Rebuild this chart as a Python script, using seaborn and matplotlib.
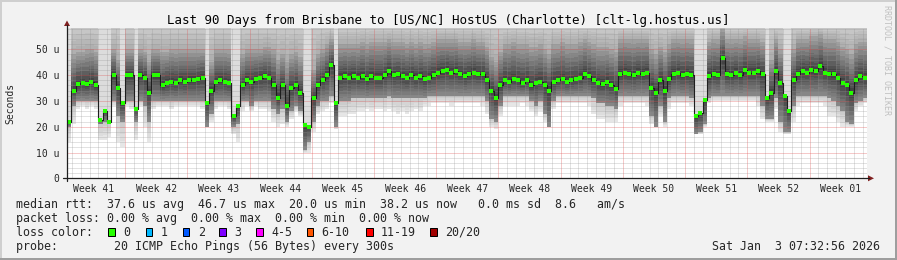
import numpy as np
import pandas as pd
import matplotlib
matplotlib.use("Agg")
import matplotlib.pyplot as plt
import seaborn as sns
from matplotlib.lines import Line2D
from matplotlib.patches import Polygon, Rectangle

# ---------------- data ----------------
title = "Last 90 Days from Brisbane to [US/NC] HostUS (Charlotte) [clt-lg.hostus.us]"
week_labels = ["Week 41", "Week 42", "Week 43", "Week 44", "Week 45", "Week 46", "Week 47",
               "Week 48", "Week 49", "Week 50", "Week 51", "Week 52", "Week 01"]
y_tick_values = [0, 10, 20, 30, 40, 50]
y_tick_labels = ["0", "10 u", "20 u", "30 u", "40 u", "50 u"]
y_label = "Seconds"
watermark = "RRDTOOL / TOBI OETIKER"
legend_median = "median rtt:  37.6 us avg  46.7 us max  20.0 us min  38.2 us now   0.0 ms sd  8.6   am/s"
legend_loss = "packet loss: 0.00 % avg  0.00 % max  0.00 % min  0.00 % now"
legend_color_title = "loss color:"
loss_labels = ["0", "1", "2", "3", "4-5", "6-10", "11-19", "20/20"]
loss_colors = ["#26ff00", "#00b8ff", "#0059ff", "#7e00ff", "#ff00ff", "#ff5500", "#ff0000", "#a10000"]
legend_probe = "probe:        20 ICMP Echo Pings (56 Bytes) every 300s"
timestamp = "Sat Jan  3 07:32:56 2026"

# median RTT per half day (units: u), one row per week
median_rtt = [
    22, 34, 36.5, 37, 36.5, 37.5, 36, 22.5, 26, 22, 40, 35, 29, 40,
    40, 27, 40, 39, 33, 40, 40, 36, 37, 37.5, 37, 38, 37.5, 38,
    38, 38.5, 39, 29, 34, 37.5, 38, 37.5, 37, 24, 28, 36, 38, 37.5,
    38.5, 39, 39.5, 39, 36, 31, 36, 28, 35, 36, 33, 20.5, 20, 31,
    36, 38, 40, 44, 29, 39, 39.5, 39, 39.5, 39, 39.5, 38.5, 39.5, 39,
    39, 40, 41.5, 40, 40.5, 39.5, 39, 40, 39, 39.5, 38.5, 39, 40, 41,
    41.5, 42, 41, 41.5, 40.5, 39.5, 40.5, 41, 40.5, 40.5, 38, 34, 31, 36,
    38, 37.5, 38.5, 38, 37, 38, 36, 37, 37.5, 36, 34, 37.5, 38, 38.5,
    37.5, 38, 38.5, 39, 40.5, 39.5, 38, 37, 36.5, 37.5, 36, 34.5, 40.5, 41,
    40.5, 40, 41, 40.5, 41, 35, 33, 38, 34, 38.5, 40.5, 41, 40, 40.5,
    40, 24, 25.5, 30.5, 39.5, 40.5, 40, 46.5, 40.5, 40, 41, 40, 42, 41,
    41, 41.5, 40.5, 31, 33, 41.5, 37, 32, 26, 38, 40.5, 41.5, 41, 42,
    41.5, 43.5, 41, 40.5, 40.5, 39, 37, 36, 33, 38, 39.5, 39,
]
# top of the darker upper smoke
hi_q = [
    22, 48, 49, 49, 50, 50, 49, 22.5, 26, 22, 50, 46, 29, 50,
    50, 27, 50, 49, 45, 50, 50, 49, 49, 50, 50, 50, 50, 50,
    50, 50, 50, 29, 45, 50, 50, 50, 50, 24, 28, 48, 50, 50,
    50, 50, 51, 51, 50, 46, 48, 45, 48, 49, 47, 20.5, 20, 42,
    48, 50, 52, 54, 29, 52, 52, 52, 52, 52, 53, 52, 53, 53,
    53, 53, 54, 53, 53, 53, 52, 53, 52, 53, 52, 52, 53, 54,
    54, 54, 54, 54, 53, 53, 53, 54, 53, 53, 51, 47, 45, 49,
    52, 52, 53, 52, 52, 52, 51, 51, 52, 50, 48, 52, 52, 53,
    52, 52, 52, 53, 54, 53, 52, 51, 51, 51, 50, 49, 54, 54,
    54, 54, 54, 54, 54, 50, 48, 51, 49, 52, 54, 54, 54, 54,
    54, 24, 25.5, 30.5, 53, 54, 54, 58, 54, 54, 54, 54, 55, 54,
    54, 54, 53, 31, 46, 54, 50, 32, 26, 50, 54, 54, 54, 55,
    55, 56, 54, 54, 54, 53, 51, 50, 48, 52, 53, 53,
]
# bottom of the dark lower smoke
lo_dark = [
    20, 28, 30, 30, 30, 30, 30, 21, 22, 21, 30, 24, 22, 30,
    30, 22, 30, 28, 22, 30, 30, 30, 30, 30, 30, 30, 30, 30,
    30, 30, 30, 20, 25, 30, 30, 30, 30, 20, 21, 30, 30, 28,
    30, 30, 30, 30, 27, 25, 27, 22, 26, 28, 26, 11, 14, 22,
    28, 30, 30, 32, 20, 30, 30, 30, 31, 31, 31, 31, 31, 31,
    31, 31, 32, 31, 31, 31, 31, 31, 31, 31, 31, 32, 32, 32,
    32, 32, 32, 32, 32, 32, 32, 32, 32, 32, 30, 23, 22, 28,
    32, 32, 32, 32, 32, 32, 30, 28, 30, 25, 20, 30, 32, 32,
    32, 32, 32, 32, 32, 32, 31, 29, 29, 28, 28, 27, 32, 32,
    32, 32, 32, 32, 32, 24, 20, 28, 22, 31, 32, 32, 32, 32,
    31, 17, 18, 21, 31, 32, 32, 32, 32, 32, 32, 32, 32, 32,
    32, 32, 28, 23, 23, 31, 22, 18, 18, 28, 32, 32, 32, 32,
    32, 32, 32, 31, 30, 28, 26, 22, 21, 29, 30, 31,
]
# lowest light smoke tails
lo_min = [
    14, 21, 27, 28, 27, 28, 27, 15, 15, 16, 28, 14, 12, 28,
    27, 15, 28, 20, 14, 27, 28, 28, 28, 27, 28, 28, 28, 28,
    28, 28, 27, 20, 22, 27, 28, 28, 27, 17, 14, 26, 28, 26,
    28, 27, 27, 26, 22, 20, 21, 20, 23, 26, 24, 10, 10, 18,
    25, 26, 27, 29, 19, 24, 24, 25, 25, 26, 26, 27, 26, 27,
    27, 26, 27, 26, 25, 26, 25, 26, 27, 26, 28, 28, 29, 29,
    29, 29, 28, 29, 29, 29, 29, 29, 29, 28, 25, 20, 19, 24,
    28, 28, 28, 28, 29, 28, 26, 24, 26, 22, 20, 27, 29, 29,
    29, 29, 29, 29, 29, 28, 25, 23, 23, 22, 22, 22, 28, 29,
    29, 29, 29, 29, 28, 21, 20, 24, 20, 27, 29, 29, 29, 29,
    28, 17, 17, 20, 29, 30, 30, 30, 30, 30, 30, 30, 30, 30,
    30, 28, 23, 22, 22, 27, 18, 17, 17, 22, 28, 29, 29, 29,
    29, 29, 28, 24, 24, 22, 20, 20, 20, 26, 28, 29,
]

# ---------------- layout ----------------
W, H = 897, 260
L_PX, R_PX, T_PX, B_PX = 67, 867, 28.0, 178.3
Y_TOP = 58.26
SPAN_DAYS = 90
FIRST_WEEK_LINE = 6.54  # day offset of first week boundary


def fx(px):
    return px / W


def fy(py):
    return 1 - py / H


sns.set_theme(style="white")
plt.rcParams['font.family'] = ['DejaVu Sans Mono', 'DejaVu Sans']

fig = plt.figure(figsize=(W / 100, H / 100), dpi=100, facecolor='#f2f2f2')
ax = fig.add_axes([fx(L_PX), fy(B_PX), (R_PX - L_PX) / W, (B_PX - T_PX) / H])
ax.set_facecolor('white')
ax.set_xlim(0, SPAN_DAYS)
ax.set_ylim(0, Y_TOP)

days = np.arange(len(median_rtt)) * 0.5 + 0.25
x = np.r_[0.0, days, float(SPAN_DAYS)]


def ext(a):
    a = np.asarray(a, float)
    return np.r_[a[0], a, a[-1]]


med = ext(median_rtt)
lod = ext(lo_dark)
lom = ext(lo_min)
hiq = ext(hi_q)
stripe = (hiq - med) < 3
hi_eff = np.where(stripe, med, hiq)
top_eff = np.where(stripe, med, Y_TOP)
stripe_top = np.where(stripe, Y_TOP, med)


def band(lo, hi, c):
    ax.fill_between(x, lo, hi, step='mid', color=c, linewidth=0, zorder=1, antialiased=False)


def grey(v):
    return (v / 255, v / 255, v / 255)


def gradient(lo, hi, g_lo, g_hi, n):
    for k in range(n):
        g = g_lo + (g_hi - g_lo) * (k + 0.5) / n
        band(lo + (hi - lo) * k / n, lo + (hi - lo) * (k + 1) / n, grey(g))


# light tails below the dark smoke
gradient(lom, lod, 234, 200, 4)
# dark smoke between lower bound and median
gradient(lod, med, 140, 62, 7)
# upper smoke from median up
gradient(med, hi_eff, 62, 165, 8)
gradient(hi_eff, top_eff, 172, 202, 4)
band(med, stripe_top, '#dcdcdc')

# grid (drawn over the smoke, like rrdtool)
grid_minor = (0.56, 0.56, 0.56, 0.5)
grid_major = (0.87, 0.31, 0.31, 0.6)
dots = (0, (1, 1))
d = FIRST_WEEK_LINE - 6
while d < SPAN_DAYS:
    q = (d - FIRST_WEEK_LINE) / 7
    major = abs(q - round(q)) < 1e-6
    ax.axvline(d, color=grid_major if major else grid_minor, lw=0.72, ls=dots, zorder=2)
    d += 1
for v in np.arange(2, Y_TOP, 2):
    ax.axhline(v, color=grid_major if v % 10 == 0 else grid_minor, lw=0.72, ls=dots, zorder=2)

# median line with loss-colored dots
df = pd.DataFrame({'day': days, 'rtt': median_rtt})
sns.lineplot(data=df, x='day', y='rtt', ax=ax, color='#1e1e1e', lw=0.8,
             drawstyle='steps-mid', estimator=None, zorder=4)
sns.scatterplot(data=df, x='day', y='rtt', ax=ax, marker='s', s=5,
                color=loss_colors[0], linewidth=0, zorder=5)

# ticks
week_centers = [FIRST_WEEK_LINE - 3.5 + 7 * i for i in range(len(week_labels))]
ax.set_xticks(week_centers)
ax.set_xticklabels(week_labels, fontsize=7)
ax.set_yticks(y_tick_values)
ax.set_yticklabels(y_tick_labels, fontsize=7)
ax.tick_params(axis='both', length=0)
ax.tick_params(axis='x', pad=4)
ax.tick_params(axis='y', pad=5.5)
for s in ax.spines.values():
    s.set_visible(False)
ax.set_xlabel('')
ax.set_ylabel('')
ax.grid(False)

# axes lines and arrows
axis_col = '#1f1f1f'
arrow_col = '#801f1f'
fig.add_artist(Line2D([fx(63), fx(869)], [fy(B_PX), fy(B_PX)], color=axis_col, lw=0.9,
                      transform=fig.transFigure))
fig.add_artist(Line2D([fx(L_PX), fx(L_PX)], [fy(B_PX + 3), fy(25)], color=axis_col, lw=0.9,
                      transform=fig.transFigure))
fig.add_artist(Polygon([[fx(868), fy(175.3)], [fx(868), fy(181.3)], [fx(874), fy(B_PX)]],
                       closed=True, color=arrow_col, transform=fig.transFigure, lw=0))
fig.add_artist(Polygon([[fx(64), fy(26)], [fx(70), fy(26)], [fx(L_PX), fy(20.5)]],
                       closed=True, color=arrow_col, transform=fig.transFigure, lw=0))

# figure frame shading
fig.add_artist(Rectangle((0, 1 - 2 / H), 1, 2 / H, color='#cfcfcf', transform=fig.transFigure, lw=0))
fig.add_artist(Rectangle((0, 0), 2 / W, 1, color='#cfcfcf', transform=fig.transFigure, lw=0))
fig.add_artist(Rectangle((0, 0), 1, 2 / H, color='#9e9e9e', transform=fig.transFigure, lw=0))
fig.add_artist(Rectangle((1 - 2 / W, 0), 2 / W, 1, color='#9e9e9e', transform=fig.transFigure, lw=0))

# texts
fig.text(fx(448), fy(24), title, ha='center', va='baseline', fontsize=9, color='black')
fig.text(fx(10), fy(103), y_label, rotation=90, ha='center', va='center', fontsize=7)
fig.text(fx(887), fy(60), watermark, rotation=270, ha='center', va='center', fontsize=6,
         color='#c0c0c0')
LEG = 8.4
fig.text(fx(16), fy(207.7), legend_median, ha='left', va='baseline', fontsize=LEG)
fig.text(fx(16), fy(221.7), legend_loss, ha='left', va='baseline', fontsize=LEG)
fig.text(fx(16), fy(235.7), legend_color_title, ha='left', va='baseline', fontsize=LEG)
fig.text(fx(16), fy(250), legend_probe, ha='left', va='baseline', fontsize=LEG)
fig.text(fx(880), fy(250), timestamp, ha='right', va='baseline', fontsize=LEG)

swatch_x = [108.3, 145.7, 182.7, 219.3, 256.0, 306.7, 366.0, 430.0]
for sx, lab, col in zip(swatch_x, loss_labels, loss_colors):
    fig.add_artist(Rectangle((fx(sx), fy(235.6)), 6.7 / W, 7.3 / H, facecolor=col,
                             edgecolor='black', lw=0.72, transform=fig.transFigure))
    fig.text(fx(sx + 15), fy(235.7), lab, ha='left', va='baseline', fontsize=LEG)

fig.savefig('out.png', dpi=100, facecolor=fig.get_facecolor())
